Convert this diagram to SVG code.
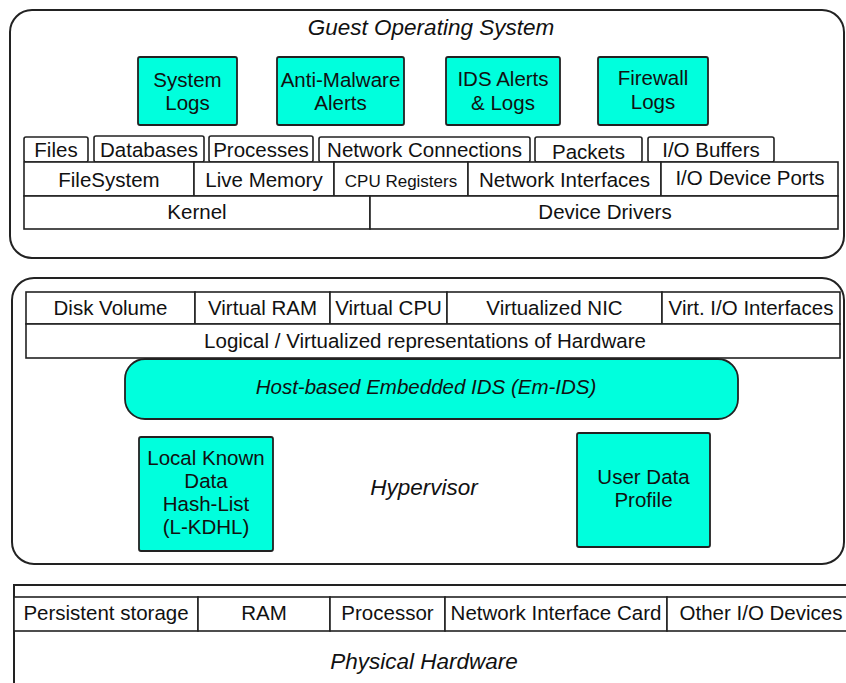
<svg xmlns="http://www.w3.org/2000/svg" width="846" height="683" viewBox="0 0 846 683">
<style>
text{font-family:"Liberation Sans",Arial,sans-serif;font-size:20.5px;fill:#111;text-anchor:middle}
.it{font-style:italic}
.ttl{font-size:22.5px}
.sm{font-size:17px}
.outer{fill:#fff;stroke:#222;stroke-width:2}
.box{fill:#fff;stroke:#222;stroke-width:1.6}
.cy{fill:#00ffdd;stroke:#222;stroke-width:1.8}
</style>
<rect width="846" height="683" fill="#fff"/>
<g id="guest-os">
<rect class="outer" x="10" y="10" width="834" height="248" rx="22"/>
<text class="it ttl" x="431" y="35">Guest Operating System</text>
</g>
<g id="system-logs"><rect class="cy" x="138" y="57" width="99" height="68" rx="2"/><text x="187.5" y="87">System</text><text x="187.5" y="110">Logs</text></g>
<g id="anti-malware"><rect class="cy" x="277" y="57" width="127" height="68" rx="2"/><text x="340.5" y="87">Anti-Malware</text><text x="340.5" y="110">Alerts</text></g>
<g id="ids-alerts"><rect class="cy" x="446" y="57" width="114" height="68" rx="2"/><text x="503" y="86">IDS Alerts</text><text x="503" y="110">&amp; Logs</text></g>
<g id="firewall-logs"><rect class="cy" x="598" y="57" width="110" height="68" rx="2"/><text x="653" y="85">Firewall</text><text x="653" y="109">Logs</text></g>
<g id="files"><rect class="box" x="24" y="137" width="64" height="25" rx="2"/><text x="56" y="157">Files</text></g>
<g id="databases"><rect class="box" x="94" y="136" width="110" height="26" rx="2"/><text x="149" y="157">Databases</text></g>
<g id="processes"><rect class="box" x="209" y="136" width="104" height="26" rx="2"/><text x="261" y="157">Processes</text></g>
<g id="network-connections"><rect class="box" x="319" y="137" width="211" height="25" rx="2"/><text x="424.5" y="157">Network Connections</text></g>
<g id="packets"><rect class="box" x="535" y="137" width="107" height="25" rx="2"/><text x="588.5" y="159">Packets</text></g>
<g id="io-buffers"><rect class="box" x="648" y="137" width="126" height="25" rx="2"/><text x="711" y="157">I/O Buffers</text></g>
<g id="filesystem"><rect class="box" x="24" y="162" width="170" height="34"/><text x="109" y="187">FileSystem</text></g>
<g id="live-memory"><rect class="box" x="194" y="162" width="140" height="34"/><text x="264" y="187">Live Memory</text></g>
<g id="cpu-registers"><rect class="box" x="334" y="162" width="134" height="34"/><text class="sm" x="401" y="187">CPU Registers</text></g>
<g id="network-interfaces"><rect class="box" x="468" y="162" width="193" height="34"/><text x="564.5" y="187">Network Interfaces</text></g>
<g id="io-device-ports"><rect class="box" x="661" y="162" width="177" height="34"/><text x="750" y="185">I/O Device Ports</text></g>
<g id="kernel"><rect class="box" x="24" y="196" width="346" height="33"/><text x="197" y="219">Kernel</text></g>
<g id="device-drivers"><rect class="box" x="370" y="196" width="468" height="33"/><text x="605" y="219">Device Drivers</text></g>
<g id="hypervisor">
<rect class="outer" x="12" y="278" width="832" height="286" rx="22"/>
<text class="it ttl" x="424" y="495">Hypervisor</text>
</g>
<g id="disk-volume"><rect class="box" x="26" y="292" width="169" height="32"/><text x="110.5" y="315">Disk Volume</text></g>
<g id="virtual-ram"><rect class="box" x="195" y="292" width="135" height="32"/><text x="262.5" y="315">Virtual RAM</text></g>
<g id="virtual-cpu"><rect class="box" x="330" y="292" width="117" height="32"/><text x="388.5" y="315">Virtual CPU</text></g>
<g id="virtualized-nic"><rect class="box" x="447" y="292" width="215" height="32"/><text x="554.5" y="315">Virtualized NIC</text></g>
<g id="virt-io"><rect class="box" x="662" y="292" width="178" height="32"/><text x="751" y="315">Virt. I/O Interfaces</text></g>
<g id="logical-hw"><rect class="box" x="26" y="324" width="814" height="34"/><text x="425" y="348">Logical / Virtualized representations of Hardware</text></g>
<g id="em-ids"><rect class="cy" x="125" y="359" width="613" height="60" rx="20"/><text class="it" x="426" y="394">Host-based Embedded IDS (Em-IDS)</text></g>
<g id="l-kdhl"><rect class="cy" x="139" y="437" width="134" height="114" rx="2"/><text x="206" y="465">Local Known</text><text x="206" y="488">Data</text><text x="206" y="511">Hash-List</text><text x="206" y="534">(L-KDHL)</text></g>
<g id="user-data-profile"><rect class="cy" x="577" y="433" width="133" height="114" rx="2"/><text x="643.5" y="484">User Data</text><text x="643.5" y="507">Profile</text></g>
<g id="physical-hardware">
<rect class="outer" x="14" y="585" width="850" height="120"/>
<text class="it ttl" x="424" y="669">Physical Hardware</text>
</g>
<g id="persistent-storage"><rect class="box" x="14" y="597" width="184" height="34"/><text x="106" y="620">Persistent storage</text></g>
<g id="ram"><rect class="box" x="198" y="597" width="132" height="34"/><text x="264" y="620">RAM</text></g>
<g id="processor"><rect class="box" x="330" y="597" width="115" height="34"/><text x="387.5" y="620">Processor</text></g>
<g id="nic"><rect class="box" x="445" y="597" width="222" height="34"/><text x="556" y="620">Network Interface Card</text></g>
<g id="other-io"><rect class="box" x="667" y="597" width="190" height="34"/><text x="761" y="620">Other I/O Devices</text></g>
<g id="connectors"></g>
</svg>
